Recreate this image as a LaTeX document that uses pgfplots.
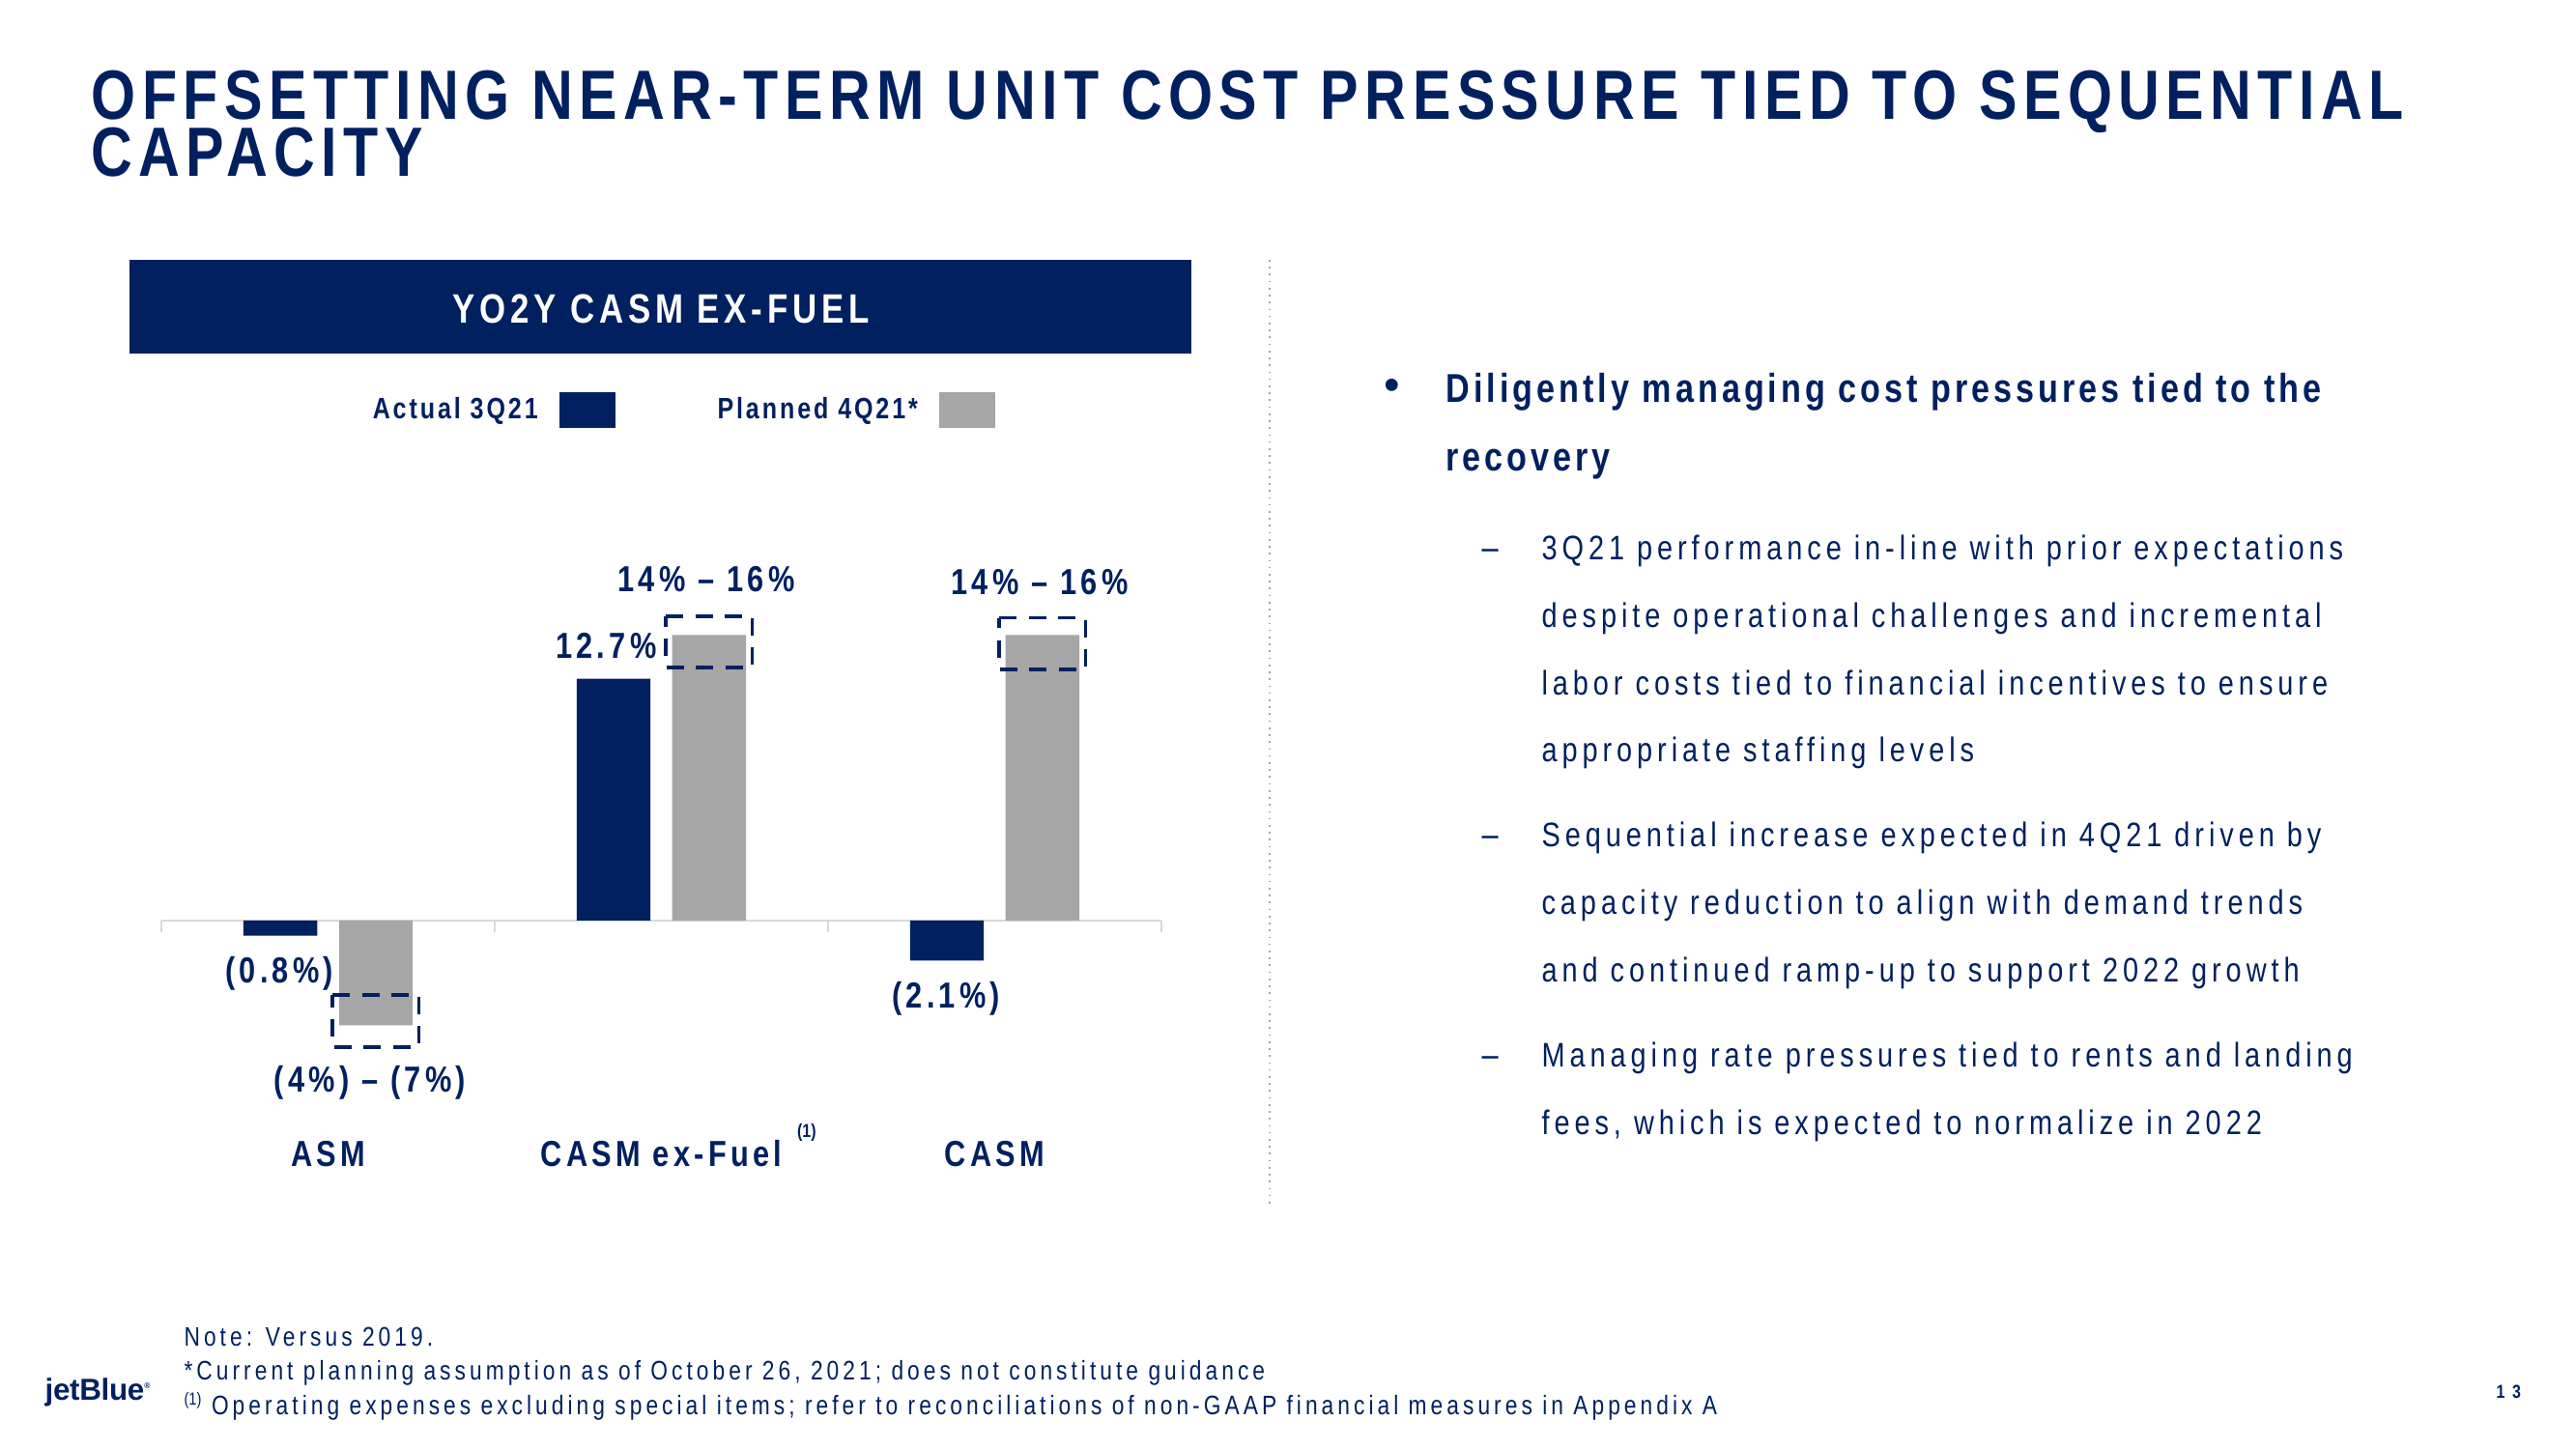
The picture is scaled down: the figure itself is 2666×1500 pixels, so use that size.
\documentclass[border=0pt]{standalone}
\usepackage{pgfplots}
\pgfplotsset{compat=1.18}
\usepackage{fontspec}
\setmainfont{Liberation Sans}[FakeStretch=0.82]
\newfontfamily\logofont{Liberation Sans}
\definecolor{jbnavy}{RGB}{0,32,96}
\definecolor{jbgray}{RGB}{166,166,166}
\definecolor{jbline}{RGB}{217,217,217}
\newcommand\ls[1]{\addfontfeature{LetterSpace=#1}}
\newcommand\fs[1]{\fontsize{#1}{#1}\selectfont}
\tikzset{lbl/.style={text=jbnavy, inner sep=0, font=\fs{13.5}\bfseries\ls{11.5}}}

% YoY vs 2019 (%): actual 3Q21, planned 4Q21 (bar), planned range (box)
\pgfplotstableread{
x  actual planned lo    hi
0  -0.8   -5.5    -6.65 -3.9
1  12.7   15.0    13.3  16.0
2  -2.1   15.0    13.2  15.9
}\casmdata

\begin{document}
\begin{tikzpicture}
\begin{scope}[x=0.36pt,y=-0.36pt]
\path (0,0) rectangle (2666,1500);
% title
\node[anchor=base west,inner sep=0,text=jbnavy] at (94,124) {\parbox[t]{880pt}{\fontsize{26}{20.9}\selectfont\bfseries\ls{8.9}\lineskiplimit=-100pt OFFSETTING NEAR-TERM UNIT COST PRESSURE TIED TO SEQUENTIAL\\CAPACITY}};
% banner
\fill[jbnavy] (134,269) rectangle (1233,366);
\node[anchor=base,inner sep=0,text=white,font=\fs{15.3}\bfseries\ls{11.3}] at (684,335) {YO2Y CASM EX-FUEL};
% divider
\draw[gray!70,dotted,line width=0.6pt] (1314,269) -- (1314,1250);
% bullets
\node[anchor=center,inner sep=0,text=jbnavy,font=\logofont\fs{17}] at (1441,403) {\textbullet};
\begin{scope}[every node/.style={anchor=base west,inner sep=0,text=jbnavy}]
\node[font=\fs{15}\bfseries\ls{9.6}] at (1496,417) {Diligently managing cost pressures tied to the};
\node[font=\fs{15}\bfseries\ls{9.6}] at (1496,488) {recovery};
\foreach \yy in {580,877,1104} \node[font=\fs{13.5}] at (1533,\yy) {--};
\node[font=\fs{12.7}\ls{14}] at (1595,580) {3Q21 performance in-line with prior expectations};
\node[font=\fs{12.7}\ls{14}] at (1595,650) {despite operational challenges and incremental};
\node[font=\fs{12.7}\ls{14}] at (1595,720) {labor costs tied to financial incentives to ensure};
\node[font=\fs{12.7}\ls{14}] at (1595,789) {appropriate staffing levels};
\node[font=\fs{12.7}\ls{14}] at (1595,877) {Sequential increase expected in 4Q21 driven by};
\node[font=\fs{12.7}\ls{14}] at (1595,947) {capacity reduction to align with demand trends};
\node[font=\fs{12.7}\ls{14}] at (1595,1017) {and continued ramp-up to support 2022 growth};
\node[font=\fs{12.7}\ls{14}] at (1595,1104) {Managing rate pressures tied to rents and landing};
\node[font=\fs{12.7}\ls{14}] at (1595,1174) {fees, which is expected to normalize in 2022};
% footnotes
\node[font=\fs{10}\ls{14.5}] at (190,1393) {Note: Versus 2019.};
\node[font=\fs{10}\ls{14.5}] at (190,1428) {*Current planning assumption as of October 26, 2021; does not constitute guidance};
\node[font=\fs{10}\ls{14.5}] at (190,1464) {\raisebox{3.5pt}{\fs{6.5}\ls{0}(1)} Operating expenses excluding special items; refer to reconciliations of non-GAAP financial measures in Appendix A};
% logo and page number
\node[font=\logofont\fs{11.3}\bfseries\addfontfeature{LetterSpace=-1}] at (46,1449) {jetBlue\raisebox{4pt}{\fs{3}®}};
\node[font=\fs{7}\bfseries\ls{40}] at (2583,1447) {13};
\end{scope}
\end{scope}

\begin{axis}[
  at={(60.12pt,-414pt)}, anchor=south west,
  scale only axis, width=372.6pt, height=212.8pt,
  xmin=-0.5, xmax=2.5, ymin=-10, ymax=20,
  hide axis, clip=false,
  legend style={at={(0.52,1.227)}, anchor=center, draw=none, fill=none,
    legend columns=2, legend plot pos=right,
    font=\fs{11}\bfseries\ls{9.5}, text=jbnavy,
    /tikz/every odd column/.append style={column sep=6pt},
    /tikz/every even column/.append style={column sep=36pt}},
]
\draw[jbline,line width=0.8pt] (axis cs:-0.5,0) -- (axis cs:2.5,0);
\draw[jbline,line width=0.8pt] (axis cs:-0.5,0) -- (axis cs:-0.5,-0.6);
\draw[jbline,line width=0.8pt] (axis cs:0.5,0) -- (axis cs:0.5,-0.6);
\draw[jbline,line width=0.8pt] (axis cs:1.5,0) -- (axis cs:1.5,-0.6);
\draw[jbline,line width=0.8pt] (axis cs:2.5,0) -- (axis cs:2.5,-0.6);
\addplot[ybar, bar width=27.5pt, bar shift=-17.8pt, fill=jbnavy, draw=none,
  legend image code/.code={\fill[jbnavy] (0pt,-6.7pt) rectangle (20.9pt,6.7pt);}]
  table[x=x,y=actual]{\casmdata};
\addlegendentry{Actual 3Q21}
\addplot[ybar, bar width=27.5pt, bar shift=17.8pt, fill=jbgray, draw=none,
  legend image code/.code={\fill[jbgray] (0pt,-6.7pt) rectangle (20.9pt,6.7pt);}]
  table[x=x,y=planned]{\casmdata};
\addlegendentry{Planned 4Q21*}
% planned ranges
\pgfplotsset{rangebox/.style={jbnavy, line width=1.3pt, dash pattern=on 6.5pt off 4.5pt, forget plot, mark=none}}
\addplot[rangebox] coordinates {(0.013,-3.9) (0.273,-3.9) (0.273,-6.65) (0.013,-6.65) (0.013,-3.9)};
\addplot[rangebox] coordinates {(1.013,16.0) (1.273,16.0) (1.273,13.3) (1.013,13.3) (1.013,16.0)};
\addplot[rangebox] coordinates {(2.013,15.9) (2.273,15.9) (2.273,13.2) (2.013,13.2) (2.013,15.9)};
% value labels
\node[lbl,anchor=base] at (axis cs:-0.146,-3.25) {(0.8\%)};
\node[lbl,anchor=base] at (axis cs:0.126,-9.0) {(4\%) -- (7\%)};
\node[lbl,anchor=base east] at (axis cs:0.987,13.76) {12.7\%};
\node[lbl,anchor=base] at (axis cs:1.135,17.3) {14\% -- 16\%};
\node[lbl,anchor=base] at (axis cs:2.135,17.13) {14\% -- 16\%};
\node[lbl,anchor=base] at (axis cs:1.854,-4.62) {(2.1\%)};
% categories
\node[lbl,anchor=base] at (axis cs:0,-12.9) {ASM};
\node[lbl,anchor=base] at (axis cs:1,-12.9) {CASM ex-Fuel};
\node[lbl,anchor=base,font=\fs{7}\bfseries] at (axis cs:1.436,-11.4) {(1)};
\node[lbl,anchor=base] at (axis cs:2,-12.9) {CASM};
\end{axis}
\end{tikzpicture}
\end{document}
